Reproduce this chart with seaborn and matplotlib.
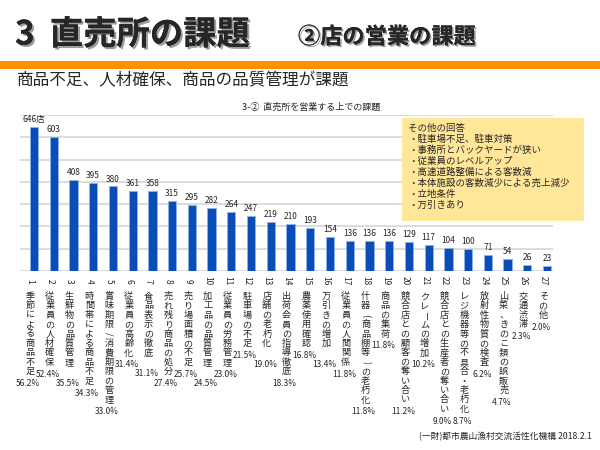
import matplotlib
matplotlib.use("Agg")
import matplotlib.pyplot as plt
import matplotlib.patheffects as pe
import matplotlib.transforms as mtransforms
from matplotlib.patches import Rectangle
import pandas as pd
import seaborn as sns

# Data
nums = [str(i) for i in range(1, 28)]
categories = ['季節による商品不足', '従業員の人材確保', '生鮮物の品質管理', '時間帯による商品不足',
              '賞味期限/消費期限の管理', '従業員の高齢化', '食品表示の徹底', '売れ残り商品の処分',
              '売り場面積の不足', '加工品の品質管理', '従業員の労務管理', '駐車場の不足',
              '店舗の老朽化', '出荷会員の指導徹底', '農薬使用確認', '万引きの増加',
              '従業員の人間関係', '什器(商品棚等)の老朽化', '商品の集荷', '競合店との顧客の奪い合い',
              'クレームの増加', '競合店との生産者の奪い合い', 'レジ機器等の不具合・老朽化', '放射性物質の検査',
              '山菜、きのこ類の誤販売', '交通渋滞', 'その他']
counts = [646, 603, 408, 395, 380, 361, 358, 315, 295, 282, 264, 247, 219, 210,
          193, 154, 136, 136, 136, 129, 117, 104, 100, 71, 54, 26, 23]
pcts = [56.2, 52.4, 35.5, 34.3, 33.0, 31.4, 31.1, 27.4, 25.7, 24.5, 23.0, 21.5, 19.0, 18.3,
        16.8, 13.4, 11.8, 11.8, 11.8, 11.2, 10.2, 9.0, 8.7, 6.2, 4.7, 2.3, 2.0]
other_answers = ['駐車場不足、駐車対策', '事務所とバックヤードが狭い', '従業員のレベルアップ',
                 '高速道路整備による客数減', '本体施設の客数減少による売上減少', '立地条件', '万引きあり']

sns.set_style('white')
FONT = ['Noto Sans CJK JP', 'DejaVu Sans']
plt.rcParams['font.family'] = FONT

W, H = 600, 450
fig = plt.figure(figsize=(6, 4.5), dpi=100)


def fy(ypx):
    return 1 - ypx / H


# header
fig.text(15 / W, fy(35), '3  直売所の課題', fontsize=24, fontweight='bold', va='center',
         path_effects=[pe.withSimplePatchShadow(offset=(1.5, -1.5), alpha=0.4), pe.Normal()])
fig.text(298 / W, fy(37), '②店の営業の課題', fontsize=16, fontweight='bold', va='center',
         path_effects=[pe.withSimplePatchShadow(offset=(1.2, -1.2), alpha=0.4), pe.Normal()])
fig.patches.append(Rectangle((0, fy(69)), 1, 8 / H, transform=fig.transFigure,
                             facecolor='#FF9000', edgecolor='none'))
fig.text(17 / W, fy(81), '商品不足、人材確保、商品の品質管理が課題', fontsize=12, va='center')

# chart
ax = fig.add_axes([20 / W, fy(271), 533 / W, 156 / H])
df = pd.DataFrame({'num': nums, 'count': counts})
sns.barplot(data=df, x='num', y='count', color='#0A4DB8', saturation=1, width=0.42,
            edgecolor='#8DB4EA', linewidth=0.6, ax=ax, zorder=3)
ax.set_ylim(0, 700)
ax.set_xlim(-0.71, 26.3)
ax.set_yticks(range(0, 701, 100))
ax.yaxis.grid(True, color='#D9D9D9', linewidth=1.3, zorder=0)
ax.set_axisbelow(True)
ax.tick_params(length=0, labelleft=False, labelbottom=False)
ax.set_xlabel('')
ax.set_ylabel('')
for s in ax.spines.values():
    s.set_visible(False)

labels = [f'{c}店' if i == 0 else str(c) for i, c in enumerate(counts)]
ax.bar_label(ax.containers[0], labels=labels, padding=2, fontsize=6)

fig.text(311 / W, fy(107), '3-②  直売所を営業する上での課題', fontsize=6.5, ha='center', va='center')

# vertical category labels
tr = mtransforms.blended_transform_factory(ax.transData, fig.transFigure)
rot_chars = set('ー/()（）')
pitch = 9.4
prev_y, prev_len = None, 0
for i, (n, cat, p) in enumerate(zip(nums, categories, pcts)):
    x = i - 0.2
    ax.text(x, fy(281), n, transform=tr, rotation=-90, fontsize=6, ha='center', va='center')
    for k, ch in enumerate(cat):
        ax.text(x, fy(296.5 + k * pitch), ch, transform=tr, fontsize=6.6, ha='center', va='center',
                rotation=-90 if ch in rot_chars else 0)
    # percent label below the text, pushed down if it would collide with the previous one
    ptxt = f'{p:.1f}%'
    py = 299 + len(cat) * pitch
    if prev_y is not None and len(ptxt) + prev_len >= 10 and abs(py - prev_y) < 8:
        py = prev_y + 9
    prev_y, prev_len = py, len(ptxt)
    ax.text(i - 0.3, fy(py), ptxt, transform=tr, fontsize=6, ha='center', va='center')

# other answers box
fig.patches.append(Rectangle((402 / W, fy(221)), 182 / W, 103 / H, transform=fig.transFigure,
                             facecolor='#FFE699', edgecolor='none', zorder=5))
fig.text(408 / W, fy(128), 'その他の回答', fontsize=6.8, va='center', zorder=6)
for k, t in enumerate(other_answers):
    fig.text(408 / W, fy(139 + k * 11), '・' + t, fontsize=6.8, va='center', zorder=6)

fig.text(592 / W, fy(437), '(一財)都市農山漁村交流活性化機構 2018.2.1', fontsize=6.3,
         ha='right', va='center')

fig.savefig('out.png', dpi=100)
